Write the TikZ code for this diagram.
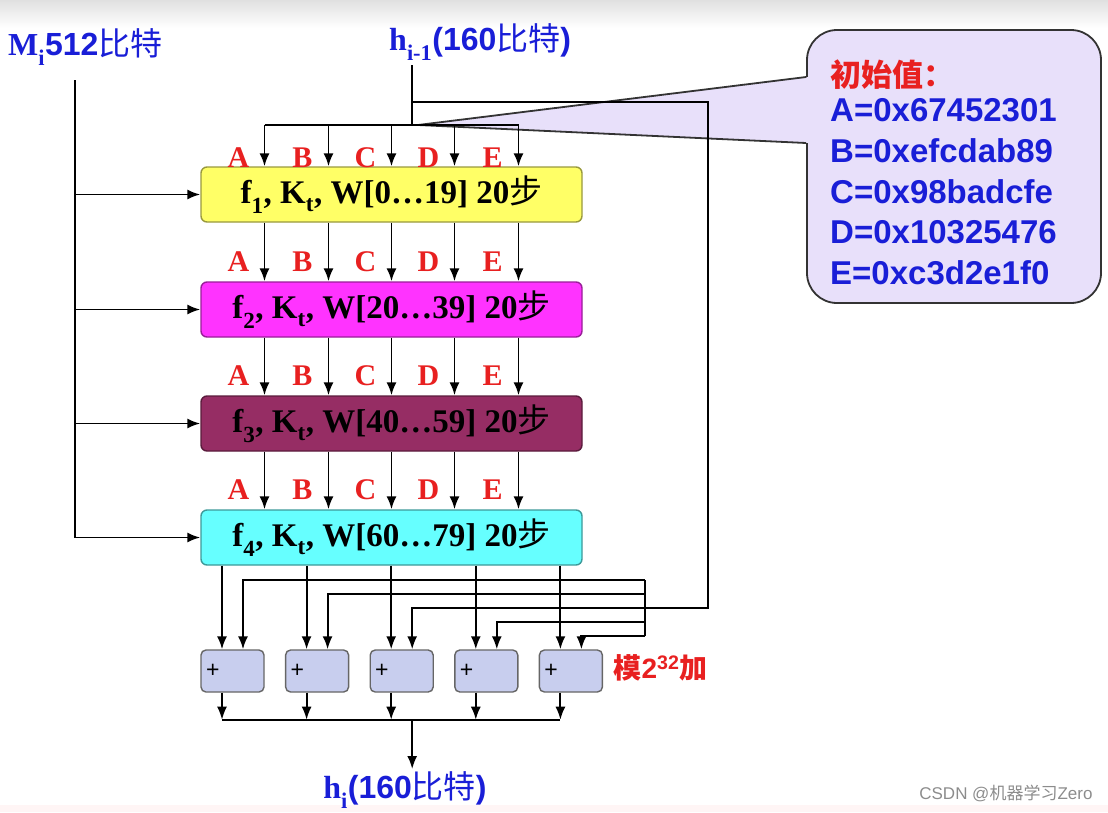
\documentclass[tikz,border=0pt]{standalone}
\usepackage{fontspec}
\setmainfont{Liberation Serif}
\newfontfamily\sansfont{Liberation Sans}
\newfontfamily\cjk{Noto Sans CJK SC}
\usepackage{tikz}
\usetikzlibrary{arrows.meta}
\usetikzlibrary{calc}
\definecolor{labelblue}{RGB}{25,30,215}
\definecolor{letterred}{RGB}{232,32,32}
\definecolor{yellowbox}{RGB}{255,255,102}
\definecolor{magentabox}{RGB}{255,51,255}
\definecolor{maroonbox}{RGB}{150,45,100}
\definecolor{cyanbox}{RGB}{102,255,255}
\definecolor{adderfill}{RGB}{200,206,238}
\definecolor{calloutfill}{RGB}{232,224,250}
\newcommand{\dsub}[1]{\raisebox{-0.25ex}{\textsubscript{#1}}}
\tikzstyle{stepbox}=[rectangle,rounded corners=6pt,minimum width=381pt,minimum height=55pt,inner sep=0pt,line width=1.4pt,font=\fontsize{33}{33}\selectfont\bfseries]
\tikzstyle{adder}=[rectangle,rounded corners=5pt,fill=adderfill,draw=black!60,line width=1.4pt,minimum width=63pt,minimum height=42pt,inner xsep=5pt,text width=53pt,align=left,font=\sansfont\fontsize{23}{23}\selectfont]
\tikzstyle{letter}=[text=letterred,font=\fontsize{30}{30}\selectfont\bfseries]
\tikzstyle{bluelabel}=[text=labelblue,font=\fontsize{32}{32}\selectfont\bfseries,inner sep=2pt]
\tikzstyle{initval}=[text=labelblue,font=\sansfont\fontsize{33}{33}\selectfont\bfseries,inner sep=0pt]
\tikzstyle{wire} = [draw,line width=1.9pt]
\tikzstyle{flow} = [draw,line width=1.9pt,-{Latex[length=13pt,width=10pt]}]

\begin{document}
\begin{tikzpicture}[x=1pt,y=-1pt]
    \useasboundingbox (0,0) rectangle (1108,812);
    % slide background
    \shade[top color=black!12, bottom color=white] (0,0) rectangle (1108,28);
    \fill[red!4] (0,805) rectangle (1108,812);

    % the four rounds
    \foreach \i/\c/\y/\rng in {1/yellowbox/194.5/{0…19}, 2/magentabox/309.5/{20…39}, 3/maroonbox/423.5/{40…59}, 4/cyanbox/537.5/{60…79}}
        \node[stepbox,fill=\c,draw=\c!60!black] (box\i) at (391.5,\y) {f\dsub{\i}, K\dsub{t}, W[\rng] 20{\cjk\mdseries 步}};

    % callout with the initial values
    \node[rectangle,rounded corners=30pt,fill=calloutfill,draw=black!80,line width=1.8pt,minimum width=294pt,minimum height=273pt] (init) at (954,166.5) {};
    \coordinate (tip) at (418,125);
    \coordinate (pu) at ($(init.west)+(0,-89.5)$);
    \coordinate (pl) at ($(init.west)+(0,-23.5)$);
    \fill[calloutfill] (tip) -- ($(pu)+(3,0)$) -- ($(pl)+(3,0)$) -- cycle;
    \draw[line width=1.8pt,black!80] (pu) -- (tip) -- (pl);
    \node[anchor=west,text=letterred,font=\cjk\fontsize{31}{31}\selectfont\bfseries] (inithead) at (827,75) {初始值：};
    \foreach \n/\v [count=\k] in {A/67452301, B/efcdab89, C/98badcfe, D/10325476, E/c3d2e1f0}
        \node[initval,anchor=west] (val\n) at (830,{110+40.8*(\k-1)}) {\n=0x\v};

    % inputs
    \node[bluelabel,anchor=west] (mlabel) at (6,47) {M\dsub{i}{\sansfont 512}{\cjk\mdseries 比特}};
    \node[bluelabel,anchor=west] (hprev) at (387,42) {h\dsub{i-1}{\sansfont (160}{\cjk\mdseries 比特}{\sansfont )}};

    \foreach \j/\x in {1/264.5, 2/328.5, 3/391.5, 4/454.5, 5/518.5}
        \coordinate (col\j) at (\x,125);
    \coordinate (htop) at (412,65);
    \coordinate (hjoin) at (412,125);
    \coordinate (hfeed) at (412,102);
    \draw[wire] (htop) -- (hjoin);
    \draw[wire] (col1) -- (col5);
    \foreach \j in {1,...,5}
        \draw[flow] (col\j) -- (col\j |- box1.north);

    % message words into every round
    \coordinate (mtop) at (75,80);
    \draw[wire] (mtop) -- (mtop |- box4.west);
    \foreach \i in {1,...,4}
        \draw[flow] (mtop |- box\i.west) -- (box\i.west);

    % A..E between the rounds
    \foreach \i/\k in {1/2, 2/3, 3/4}
        \foreach \j in {1,...,5}
            \draw[flow] (col\j |- box\i.south) -- (col\j |- box\k.north);
    \foreach \i/\dy in {1/9, 2/20, 3/20, 4/20}
        \foreach \j/\l in {1/A, 2/B, 3/C, 4/D, 5/E}
            \node[letter] (lab\i\l) at ($(col\j |- box\i.north)+(-26,-\dy)$) {\l};

    % adders
    \foreach \i in {1,...,5} {
        \node[adder] (add\i) at ({232.5+84.6*(\i-1)},671) {+};
        \coordinate (ina\i) at ($(add\i.north)+(-10.5,0)$);
        \coordinate (inb\i) at ($(add\i.north)+(10.5,0)$);
        \coordinate (out\i) at ($(add\i.south)+(-10.5,0)$);
        \coordinate (sum\i) at ($(out\i)+(0,27)$);
        \coordinate (bar\i) at (645,{580+14*(\i-1)});
    }
    \node[anchor=west,text=letterred,font=\fontsize{28}{28}\selectfont\bfseries] (modlabel) at (610,668) {{\cjk 模}{\sansfont 2\textsuperscript{32}}{\cjk 加}};

    % round outputs and h_{i-1} into the adders
    \coordinate (rturn) at (708,102);
    \draw[wire] (hfeed) -- (rturn) |- (bar3);
    \draw[wire] (bar1) -- (bar5);
    \foreach \i in {1,...,5} {
        \draw[flow] (ina\i |- box4.south) -- (ina\i);
        \draw[flow] (bar\i) -| (inb\i);
        \draw[flow] (out\i) -- (sum\i);
    }

    % result
    \node[bluelabel] (hnext) at (405,790) {h\dsub{i}{\sansfont (160}{\cjk\mdseries 比特}{\sansfont )}};
    \draw[wire] (sum1) -- (sum5);
    \draw[flow] (inb3 |- sum1) -- (inb3 |- hnext.north);

    \node[anchor=east,text=black!45,font=\sansfont\fontsize{17}{17}\selectfont] (mark) at (1096,793) {CSDN @{\cjk 机器学习}Zero};
\end{tikzpicture}
\end{document}
